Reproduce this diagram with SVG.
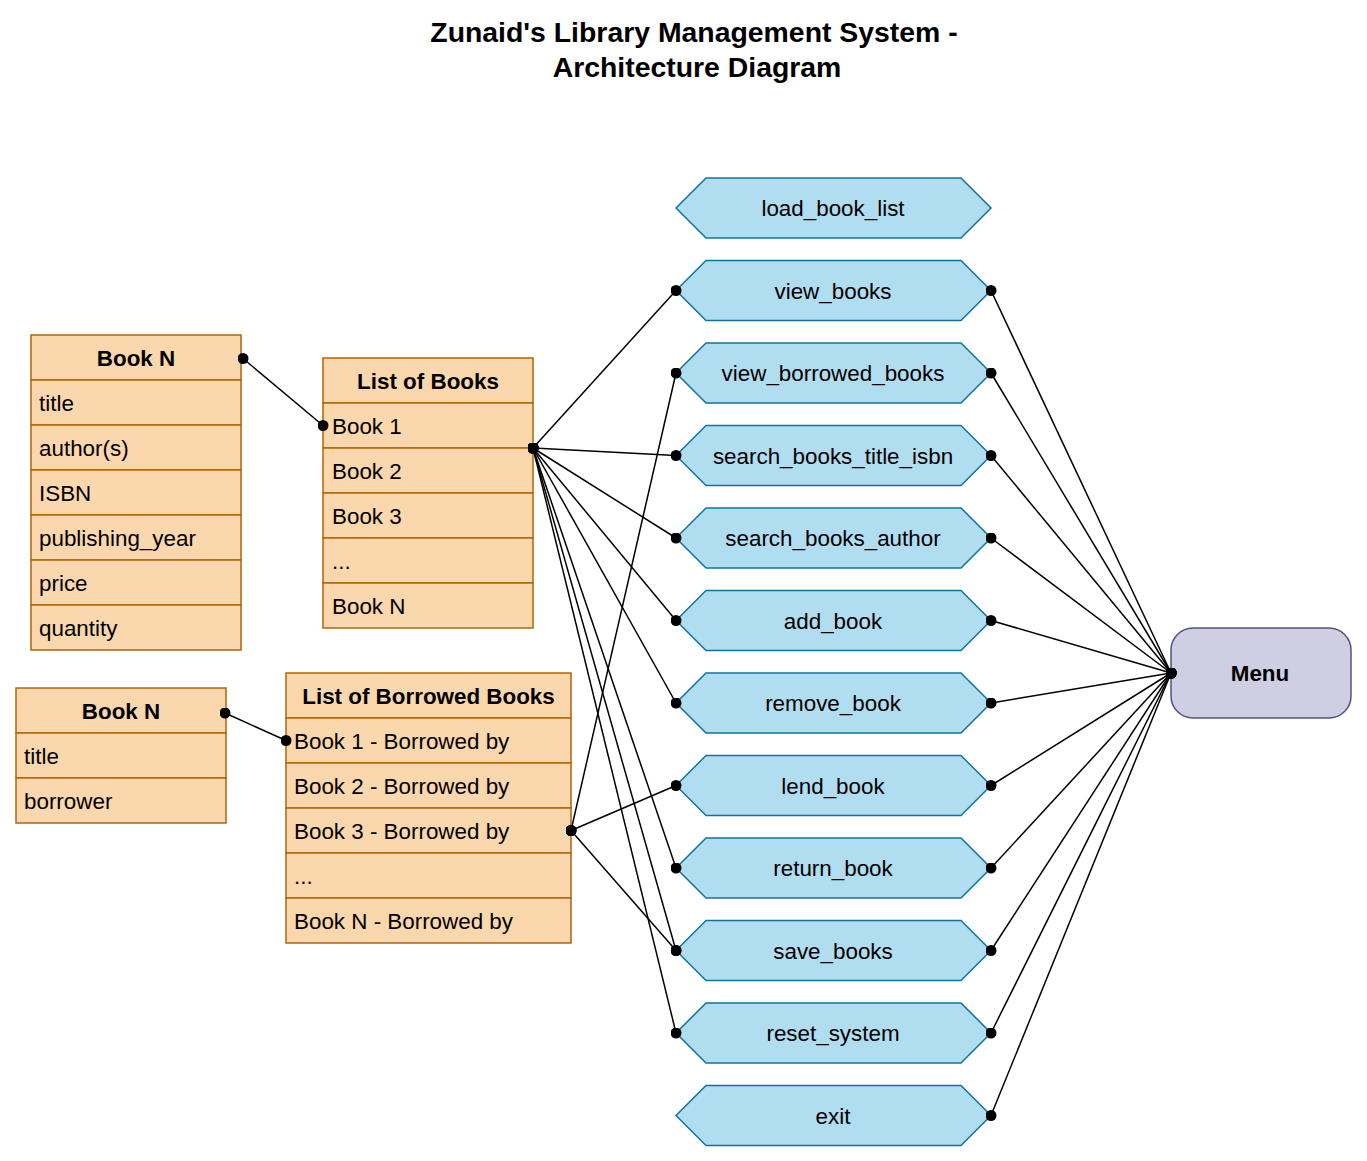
<svg xmlns="http://www.w3.org/2000/svg" xmlns:xlink="http://www.w3.org/1999/xlink" width="1367" height="1161" viewBox="0 0 1367 1161">
<style>
text{font-family:"Liberation Sans",Arial,sans-serif;fill:#000}
.title{font-size:28.4px;font-weight:bold;text-anchor:middle}
.hd{font-size:22.4px;font-weight:bold;text-anchor:middle}
.fld{font-size:22.4px}
.lbl{font-size:22.4px;text-anchor:middle}
.cell{fill:#fad7ac;stroke:#b46504;stroke-width:1.5}
.hex{fill:#b1ddf0;stroke:#10739e;stroke-width:1.5}
.menu{fill:#d0cee2;stroke:#56517e;stroke-width:1.5}
.edge{stroke:#000;stroke-width:1.5;fill:none;marker-start:url(#dot);marker-end:url(#dot)}
</style>
<defs>
<marker id="dot" viewBox="0 0 11 11" refX="5.5" refY="5.5" markerWidth="11" markerHeight="11" markerUnits="userSpaceOnUse">
<circle cx="5.5" cy="5.5" r="5.5" fill="#000"/>
</marker>
<polygon id="hexshape" points="676,30 706,0 961,0 991,30 961,60 706,60"/>
</defs>
<rect width="1367" height="1161" fill="#fff"/>
<g id="title">
<text class="title" x="694" y="42">Zunaid's Library Management System -</text>
<text class="title" x="697" y="77">Architecture Diagram</text>
</g>
<g id="book-n-top">
<rect class="cell" x="31" y="335" width="210" height="45"/>
<rect class="cell" x="31" y="380" width="210" height="45"/>
<rect class="cell" x="31" y="425" width="210" height="45"/>
<rect class="cell" x="31" y="470" width="210" height="45"/>
<rect class="cell" x="31" y="515" width="210" height="45"/>
<rect class="cell" x="31" y="560" width="210" height="45"/>
<rect class="cell" x="31" y="605" width="210" height="45"/>
<text class="hd" x="136" y="365.5">Book N</text>
<text class="fld" x="39" y="410.5">title</text>
<text class="fld" x="39" y="455.5">author(s)</text>
<text class="fld" x="39" y="500.5">ISBN</text>
<text class="fld" x="39" y="545.5">publishing_year</text>
<text class="fld" x="39" y="590.5">price</text>
<text class="fld" x="39" y="635.5">quantity</text>
</g>
<g id="list-of-books">
<rect class="cell" x="323" y="358" width="210" height="45"/>
<rect class="cell" x="323" y="403" width="210" height="45"/>
<rect class="cell" x="323" y="448" width="210" height="45"/>
<rect class="cell" x="323" y="493" width="210" height="45"/>
<rect class="cell" x="323" y="538" width="210" height="45"/>
<rect class="cell" x="323" y="583" width="210" height="45"/>
<text class="hd" x="428" y="388.5">List of Books</text>
<text class="fld" x="332" y="433.5">Book 1</text>
<text class="fld" x="332" y="478.5">Book 2</text>
<text class="fld" x="332" y="523.5">Book 3</text>
<text class="fld" x="332" y="568.5">...</text>
<text class="fld" x="332" y="613.5">Book N</text>
</g>
<g id="book-n-bottom">
<rect class="cell" x="16" y="688" width="210" height="45"/>
<rect class="cell" x="16" y="733" width="210" height="45"/>
<rect class="cell" x="16" y="778" width="210" height="45"/>
<text class="hd" x="121" y="718.5">Book N</text>
<text class="fld" x="24" y="763.5">title</text>
<text class="fld" x="24" y="808.5">borrower</text>
</g>
<g id="list-of-borrowed-books">
<rect class="cell" x="286" y="673" width="285" height="45"/>
<rect class="cell" x="286" y="718" width="285" height="45"/>
<rect class="cell" x="286" y="763" width="285" height="45"/>
<rect class="cell" x="286" y="808" width="285" height="45"/>
<rect class="cell" x="286" y="853" width="285" height="45"/>
<rect class="cell" x="286" y="898" width="285" height="45"/>
<text class="hd" x="428.5" y="703.5">List of Borrowed Books</text>
<text class="fld" x="294" y="748.5">Book 1 - Borrowed by</text>
<text class="fld" x="294" y="793.5">Book 2 - Borrowed by</text>
<text class="fld" x="294" y="838.5">Book 3 - Borrowed by</text>
<text class="fld" x="294" y="883.5">...</text>
<text class="fld" x="294" y="928.5">Book N - Borrowed by</text>
</g>
<g id="load_book_list"><use xlink:href="#hexshape" class="hex" y="178"/><text class="lbl" x="833" y="216">load_book_list</text></g>
<g id="view_books"><use xlink:href="#hexshape" class="hex" y="260.5"/><text class="lbl" x="833" y="298.5">view_books</text></g>
<g id="view_borrowed_books"><use xlink:href="#hexshape" class="hex" y="343"/><text class="lbl" x="833" y="381">view_borrowed_books</text></g>
<g id="search_books_title_isbn"><use xlink:href="#hexshape" class="hex" y="425.5"/><text class="lbl" x="833" y="463.5">search_books_title_isbn</text></g>
<g id="search_books_author"><use xlink:href="#hexshape" class="hex" y="508"/><text class="lbl" x="833" y="546">search_books_author</text></g>
<g id="add_book"><use xlink:href="#hexshape" class="hex" y="590.5"/><text class="lbl" x="833" y="628.5">add_book</text></g>
<g id="remove_book"><use xlink:href="#hexshape" class="hex" y="673"/><text class="lbl" x="833" y="711">remove_book</text></g>
<g id="lend_book"><use xlink:href="#hexshape" class="hex" y="755.5"/><text class="lbl" x="833" y="793.5">lend_book</text></g>
<g id="return_book"><use xlink:href="#hexshape" class="hex" y="838"/><text class="lbl" x="833" y="876">return_book</text></g>
<g id="save_books"><use xlink:href="#hexshape" class="hex" y="920.5"/><text class="lbl" x="833" y="958.5">save_books</text></g>
<g id="reset_system"><use xlink:href="#hexshape" class="hex" y="1003"/><text class="lbl" x="833" y="1041">reset_system</text></g>
<g id="exit"><use xlink:href="#hexshape" class="hex" y="1085.5"/><text class="lbl" x="833" y="1123.5">exit</text></g>
<g id="menu">
<rect class="menu" x="1171" y="628" width="180" height="90" rx="22" ry="22"/>
<text class="hd" x="1260" y="681">Menu</text>
</g>
<g id="connectors">
<line class="edge" x1="243" y1="358.5" x2="323" y2="425.5"/>
<line class="edge" x1="225" y1="713" x2="286" y2="740.5"/>
<line class="edge" x1="533" y1="448" x2="676" y2="290.5"/>
<line class="edge" x1="533" y1="448" x2="676" y2="455.5"/>
<line class="edge" x1="533" y1="448" x2="676" y2="538"/>
<line class="edge" x1="533" y1="448" x2="676" y2="620.5"/>
<line class="edge" x1="533" y1="448" x2="676" y2="703"/>
<line class="edge" x1="533" y1="448" x2="676" y2="868"/>
<line class="edge" x1="533" y1="448" x2="676" y2="950.5"/>
<line class="edge" x1="533" y1="448" x2="676" y2="1033"/>
<line class="edge" x1="571" y1="830.5" x2="676" y2="373"/>
<line class="edge" x1="571" y1="830.5" x2="676" y2="785.5"/>
<line class="edge" x1="571" y1="830.5" x2="676" y2="950.5"/>
<line class="edge" x1="991" y1="290.5" x2="1171" y2="673"/>
<line class="edge" x1="991" y1="373" x2="1171" y2="673"/>
<line class="edge" x1="991" y1="455.5" x2="1171" y2="673"/>
<line class="edge" x1="991" y1="538" x2="1171" y2="673"/>
<line class="edge" x1="991" y1="620.5" x2="1171" y2="673"/>
<line class="edge" x1="991" y1="703" x2="1171" y2="673"/>
<line class="edge" x1="991" y1="785.5" x2="1171" y2="673"/>
<line class="edge" x1="991" y1="868" x2="1171" y2="673"/>
<line class="edge" x1="991" y1="950.5" x2="1171" y2="673"/>
<line class="edge" x1="991" y1="1033" x2="1171" y2="673"/>
<line class="edge" x1="991" y1="1115.5" x2="1171" y2="673"/>
</g>
</svg>
